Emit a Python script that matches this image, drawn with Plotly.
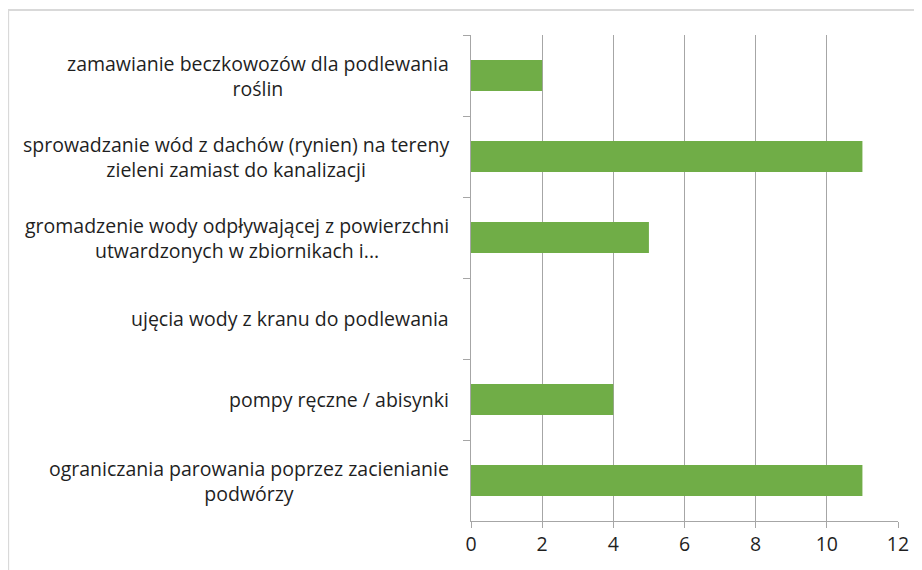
import plotly.graph_objects as go

# data (top to bottom as in the chart)
categories = [
    "zamawianie beczkowozów dla podlewania<br>roślin",
    "sprowadzanie wód z dachów (rynien) na tereny<br>zieleni zamiast do kanalizacji",
    "gromadzenie wody odpływającej z powierzchni<br>utwardzonych w zbiornikach i...",
    "ujęcia wody z kranu do podlewania",
    "pompy ręczne / abisynki",
    "ograniczania parowania poprzez zacienianie<br>podwórzy",
]
values = [2, 11, 5, 0, 4, 11]
x_ticks = [0, 2, 4, 6, 8, 10, 12]

FONT = "'Open Sans', sans-serif"
GREY = "#A6A6A6"
TEXT = "#1f1f1f"

# page body adds an 8px offset, margins below compensate for it
fig = go.Figure(go.Bar(
    x=values,
    y=categories,
    orientation="h",
    marker=dict(color="#70AD47", line=dict(width=0)),
))

# category labels: block right aligned, lines centered
for cat in categories:
    fig.add_annotation(
        x=0, xref="paper", y=cat, yref="y",
        text=cat, showarrow=False,
        xanchor="right", align="center",
        xshift=-20,
        font=dict(family=FONT, size=19.5, color=TEXT),
    )

# light chart border (only top and left visible in frame)
fig.add_shape(
    type="rect", xref="paper", yref="paper",
    x0=-1.084, x1=2, y0=-1, y1=1.0514,
    line=dict(color="#D9D9D9", width=2),
    fillcolor="rgba(0,0,0,0)", layer="below",
)

fig.update_layout(
    width=922, height=570,
    margin=dict(l=463, r=32, t=27, b=57, autoexpand=False),
    paper_bgcolor="white",
    plot_bgcolor="white",
    bargap=0.62,
    showlegend=False,
    font=dict(family=FONT, size=19.5, color=TEXT),
)

fig.update_xaxes(
    range=[0, 12],
    tickvals=x_ticks,
    showgrid=True, gridcolor=GREY, gridwidth=1,
    zeroline=False,
    showline=True, linecolor=GREY, linewidth=1,
    ticks="outside", ticklen=6, tickcolor=GREY,
    tickfont=dict(family=FONT, size=19.5, color=TEXT),
)

fig.update_yaxes(
    autorange="reversed",
    showticklabels=False,
    showgrid=False,
    showline=True, linecolor=GREY, linewidth=1,
    ticks="outside", ticklen=7, tickcolor=GREY,
    tickson="boundaries",
)

fig.write_html("out.html")
